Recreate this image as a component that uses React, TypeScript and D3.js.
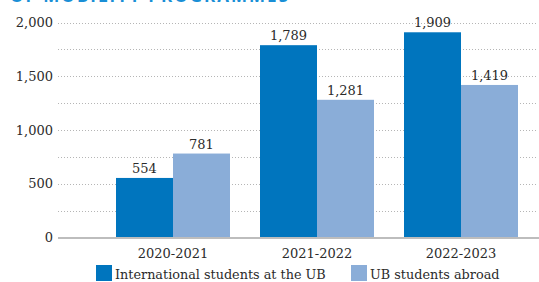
import React from "react";
import * as d3 from "d3";

const years = ["2020-2021", "2021-2022", "2022-2023"];
const series = ["International students at the UB", "UB students abroad"];
const incoming = [554, 1789, 1909];
const outgoing = [781, 1281, 1419];
const yTicks = [0, 500, 1000, 1500, 2000];
const gridValues = [250, 500, 750, 1000, 1250, 1500, 1750, 2000];
const colors = ["#0075be", "#8aadd8"];

const W = 539;
const H = 282;
const font = "'DejaVu Serif', serif";

export default function App() {
  const y = d3.scaleLinear().domain([0, 2000]).range([237.5, 22.5]);
  const x0 = d3
    .scaleBand<string>()
    .domain(years)
    .range([101, 533])
    .paddingInner(30 / 144)
    .paddingOuter(15 / 144);
  const x1 = d3.scaleBand<string>().domain(series).range([0, x0.bandwidth()]).padding(0);
  const values = [incoming, outgoing];
  const fmt = d3.format(",");

  return (
    <svg
      width={W}
      height={H}
      style={{ position: "absolute", left: 0, top: 0, display: "block" }}
    >
      <rect width={W} height={H} fill="#fff" />
      <text
        x={10}
        y={1.5}
        fill="#1a8fd6"
        fontFamily="'Open Sans', sans-serif"
        fontWeight={700}
        fontSize={17}
        textLength={278}
      >
        OF MOBILITY PROGRAMMES
      </text>
      {gridValues.map((v) => (
        <line
          key={v}
          x1={58}
          x2={538}
          y1={Math.round(y(v)) + 0.5}
          y2={Math.round(y(v)) + 0.5}
          stroke="#b5b5b5"
          strokeWidth={1}
          strokeDasharray="1,2"
        />
      ))}
      {yTicks.map((v) => (
        <text
          key={v}
          x={53}
          y={y(v) + 4.5}
          textAnchor="end"
          fontFamily={font}
          fontSize={13}
          fill="#2b2b2b"
        >
          {fmt(v)}
        </text>
      ))}
      {years.map((yr, i) => (
        <g key={yr} transform={`translate(${x0(yr)},0)`}>
          {series.map((s, j) => {
            const v = values[j][i];
            const bx = x1(s) as number;
            return (
              <g key={s}>
                <rect
                  x={bx}
                  y={y(v)}
                  width={x1.bandwidth()}
                  height={y(0) - y(v)}
                  fill={colors[j]}
                />
                <text
                  x={bx + x1.bandwidth() / 2}
                  y={y(v) - 5}
                  textAnchor="middle"
                  fontFamily={font}
                  fontSize={13}
                  fill="#2b2b2b"
                >
                  {fmt(v)}
                </text>
              </g>
            );
          })}
          <text
            x={x0.bandwidth() / 2}
            y={258}
            textAnchor="middle"
            fontFamily={font}
            fontSize={13}
            fill="#2b2b2b"
          >
            {yr}
          </text>
        </g>
      ))}
      <line x1={58} x2={539} y1={238} y2={238} stroke="#bdbdbd" strokeWidth={2} />
      {series.map((s, j) => {
        const lx = j === 0 ? 96 : 351;
        return (
          <g key={s}>
            <rect x={lx} y={265} width={16} height={16} fill={colors[j]} />
            <text
              x={lx + 19}
              y={278.5}
              fontFamily={font}
              fontSize={12.8}
              fill="#2b2b2b"
            >
              {s}
            </text>
          </g>
        );
      })}
    </svg>
  );
}
